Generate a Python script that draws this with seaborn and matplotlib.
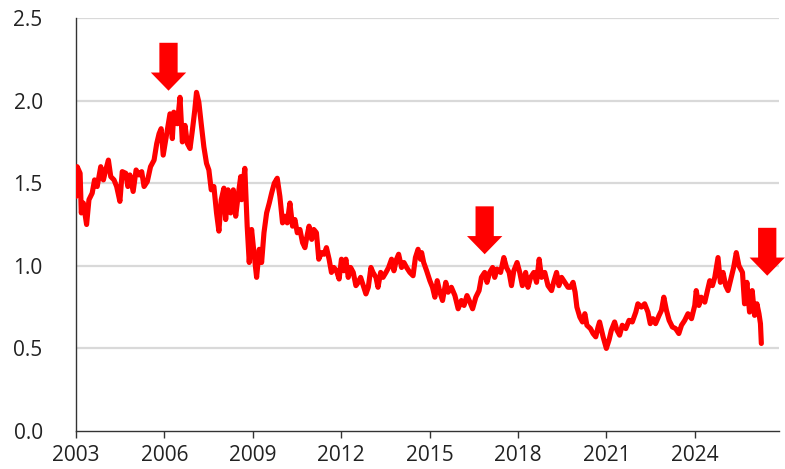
import matplotlib
matplotlib.use("Agg")
import matplotlib.pyplot as plt
import seaborn as sns
import numpy as np
import pandas as pd

# years offset from 2003
t_offset = [
    0.00, 0.04, 0.14, 0.18, 0.25, 0.36, 0.44, 0.55, 0.63, 0.72, 0.84, 0.93,
    1.01, 1.10, 1.18, 1.29, 1.38, 1.49, 1.57, 1.69, 1.76, 1.83, 1.94, 2.04,
    2.14, 2.23, 2.31, 2.42, 2.53, 2.65, 2.74, 2.82, 2.89, 2.96, 3.08, 3.19,
    3.27, 3.32, 3.44, 3.53, 3.61, 3.70, 3.78, 3.87, 3.95, 4.03, 4.09, 4.17,
    4.25, 4.34, 4.43, 4.51, 4.59, 4.68, 4.77, 4.85, 4.93, 5.02, 5.08, 5.16,
    5.25, 5.34, 5.42, 5.50, 5.59,
    5.62, 5.73, 5.81, 5.88, 5.96, 6.04, 6.13, 6.22, 6.30, 6.38, 6.47, 6.56,
    6.64, 6.73, 6.83, 6.92, 7.01, 7.09, 7.17, 7.26, 7.35, 7.43, 7.51, 7.60,
    7.69, 7.77, 7.83, 7.91, 8.00, 8.07, 8.16, 8.24, 8.33, 8.42, 8.50, 8.59,
    8.67, 8.75, 8.84, 8.93, 9.01, 9.09, 9.16, 9.24, 9.32, 9.41, 9.50, 9.58,
    9.66, 9.75, 9.84, 9.92, 10.01, 10.08, 10.18, 10.25, 10.34, 10.42, 10.52,
    10.61, 10.71, 10.79, 10.88, 10.95, 11.05, 11.13, 11.22, 11.33, 11.44,
    11.52, 11.61, 11.69,
    11.73, 11.80, 11.90, 12.01, 12.10, 12.18, 12.26, 12.35, 12.44, 12.55,
    12.63, 12.74, 12.86, 12.97, 13.08, 13.17, 13.27, 13.37, 13.46, 13.57,
    13.68, 13.76, 13.87, 13.95, 14.04, 14.14, 14.21, 14.29, 14.41, 14.52,
    14.61, 14.70, 14.78, 14.86, 14.97, 15.06, 15.15, 15.26, 15.34, 15.43,
    15.54, 15.63, 15.72, 15.80, 15.91, 16.02, 16.14, 16.21, 16.31, 16.39,
    16.48, 16.59, 16.70, 16.78, 16.87, 16.94, 17.00, 17.10, 17.19, 17.27,
    17.34, 17.46, 17.55, 17.64, 17.72,
    17.77, 17.89, 18.00, 18.09, 18.17, 18.28, 18.36, 18.45, 18.54, 18.66,
    18.77, 18.88, 19.00, 19.07, 19.19, 19.30, 19.41, 19.49, 19.58, 19.67,
    19.79, 19.87, 19.95, 20.04, 20.13, 20.24, 20.35, 20.46, 20.55, 20.66,
    20.77, 20.89, 21.00, 21.05, 21.14, 21.22, 21.34, 21.42, 21.51, 21.60,
    21.68, 21.79, 21.87, 21.96, 22.05, 22.13, 22.24, 22.32, 22.41, 22.50,
    22.62, 22.69, 22.77, 22.86, 22.95, 23.03, 23.11, 23.18, 23.23, 23.26,
]

values = [
    1.42, 1.60, 1.56, 1.32, 1.38, 1.25, 1.40, 1.44, 1.52, 1.48, 1.60, 1.52,
    1.58, 1.64, 1.54, 1.52, 1.48, 1.39, 1.57, 1.56, 1.48, 1.55, 1.45, 1.58,
    1.55, 1.57, 1.48, 1.51, 1.60, 1.64, 1.74, 1.80, 1.83, 1.67, 1.80, 1.92,
    1.77, 1.93, 1.86, 2.02, 1.75, 1.85, 1.74, 1.71, 1.82, 1.94, 2.05, 1.99,
    1.86, 1.72, 1.62, 1.58, 1.46, 1.48, 1.32, 1.21, 1.40, 1.47, 1.28, 1.46,
    1.32, 1.46, 1.30, 1.42, 1.54,
    1.40, 1.59, 1.24, 1.02, 1.22, 1.08, 0.93, 1.10, 1.02, 1.20, 1.32, 1.38,
    1.44, 1.50, 1.53, 1.42, 1.26, 1.30, 1.26, 1.38, 1.24, 1.28, 1.20, 1.22,
    1.14, 1.11, 1.17, 1.24, 1.16, 1.22, 1.20, 1.04, 1.08, 1.07, 1.11, 1.04,
    0.96, 0.99, 0.97, 0.92, 1.04, 0.97, 1.04, 0.93, 0.99, 0.96, 0.88, 0.90,
    0.93, 0.88, 0.83, 0.87, 0.99, 0.96, 0.93, 0.87, 0.96, 0.93, 0.96,
    0.99, 1.04, 0.97, 1.04, 1.07, 0.99, 1.02, 0.99, 0.96, 0.94,
    1.05, 1.10, 1.04,
    1.08, 1.02, 0.97, 0.91, 0.87, 0.81, 0.91, 0.84, 0.79, 0.90,
    0.84, 0.87, 0.82, 0.74, 0.79, 0.76, 0.82, 0.78, 0.74, 0.81,
    0.85, 0.93, 0.96, 0.90, 0.96, 0.99, 0.93, 0.98, 0.96, 1.05,
    0.99, 0.96, 0.88, 0.97, 1.02, 0.96, 0.88, 0.96, 0.87, 0.93,
    0.96, 0.90, 1.04, 0.93, 0.96, 0.88, 0.85, 0.90, 0.96, 0.88,
    0.93, 0.90, 0.87, 0.87, 0.90, 0.84, 0.75, 0.69, 0.66, 0.71,
    0.64, 0.62, 0.59, 0.57, 0.63,
    0.66, 0.57, 0.50, 0.55, 0.61, 0.66, 0.61, 0.58, 0.64, 0.62,
    0.67, 0.66, 0.72, 0.77, 0.75, 0.77, 0.72, 0.65, 0.68, 0.65,
    0.70, 0.73, 0.81, 0.73, 0.67, 0.63, 0.62, 0.59, 0.64, 0.67,
    0.71, 0.68, 0.76, 0.85, 0.76, 0.81, 0.78, 0.84, 0.91, 0.88,
    0.93, 1.05, 0.90, 0.96, 0.88, 0.85, 0.93, 0.99, 1.08, 1.00,
    0.96, 0.77, 0.90, 0.72, 0.85, 0.70, 0.77, 0.71, 0.65, 0.53,
]

# arrow markers: x position (year), top of shaft, tip
arrow_x = [2006.14, 2016.87, 2026.46]
arrow_top = [2.35, 1.36, 1.23]
arrow_tip = [2.06, 1.07, 0.94]

x_ticks = [2003, 2006, 2009, 2012, 2015, 2018, 2021, 2024]
y_ticks = [0.0, 0.5, 1.0, 1.5, 2.0, 2.5]

df = pd.DataFrame({"year": 2003 + np.array(t_offset), "value": values})

sns.set_theme(style="white")
plt.rcParams["font.family"] = ["Open Sans", "DejaVu Sans"]

fig = plt.figure(figsize=(7.85, 4.69), dpi=100)
ax = fig.add_axes([0.0968, 0.081, 0.8952, 0.8806])

for y in y_ticks[1:]:
    ax.axhline(y, color="#d9d9d9", lw=1.6, zorder=0)

sns.lineplot(data=df, x="year", y="value", color="#ff0000", lw=3.7,
             estimator=None, sort=False, ax=ax, zorder=3)
ax.lines[-1].set_solid_joinstyle("round")
ax.lines[-1].set_solid_capstyle("round")

for x, top, tip in zip(arrow_x, arrow_top, arrow_tip):
    ax.arrow(x, top, 0, tip - top, width=0.62, head_width=1.2,
             head_length=0.11, length_includes_head=True,
             color="#ff0000", lw=0, clip_on=False, zorder=4)

ax.set_xlim(2003, 2026.85)
ax.set_ylim(0, 2.5)
ax.set_xticks(x_ticks)
ax.set_xticklabels([str(v) for v in x_ticks])
ax.set_yticks(y_ticks)
ax.set_yticklabels([f"{v:.1f}" for v in y_ticks])
ax.set_xlabel("")
ax.set_ylabel("")

for s in ["top", "right"]:
    ax.spines[s].set_visible(False)
for s in ["left", "bottom"]:
    ax.spines[s].set_color("#333333")
    ax.spines[s].set_linewidth(1.0)

ax.tick_params(axis="x", bottom=True, length=5, width=1, color="#333333",
               pad=5, labelsize=15, labelcolor="#222222")
ax.tick_params(axis="y", left=False, length=0, pad=24, labelsize=15,
               labelcolor="#222222")

fig.savefig("out.png", dpi=100)
